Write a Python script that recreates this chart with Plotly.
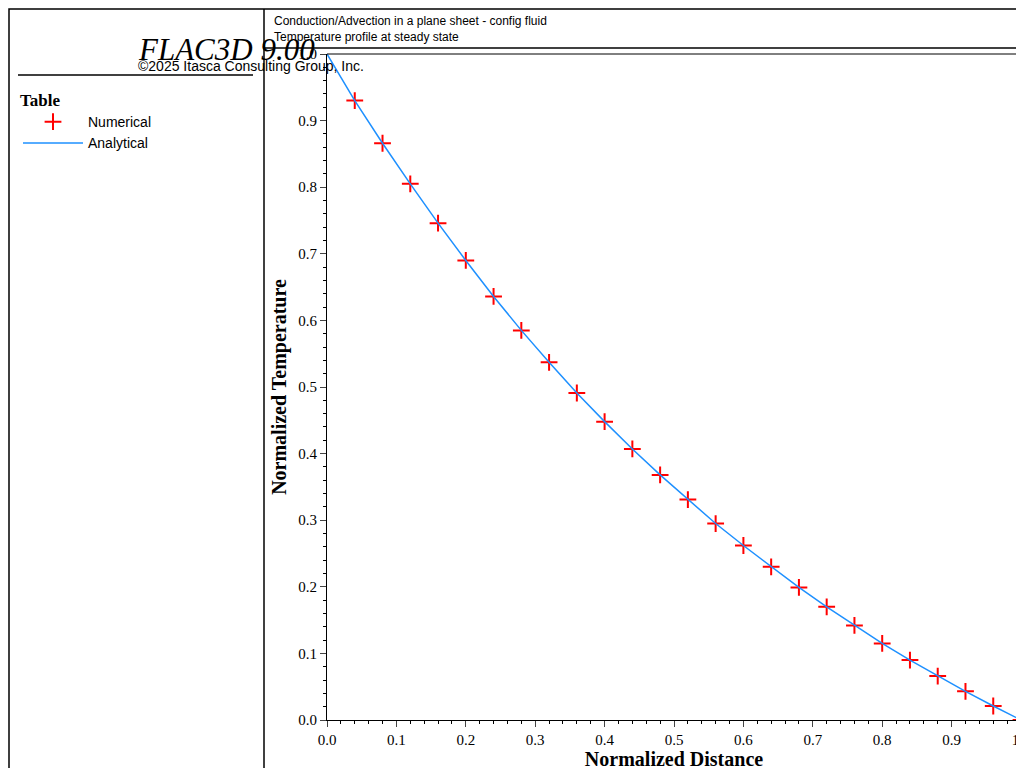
import plotly.graph_objects as go

# Values
dist_num = [0.04, 0.08, 0.12, 0.16, 0.20, 0.24, 0.28, 0.32, 0.36, 0.40, 0.44, 0.48,
            0.52, 0.56, 0.60, 0.64, 0.68, 0.72, 0.76, 0.80, 0.84, 0.88, 0.92, 0.96, 1.00]
temp_num = [0.930, 0.866, 0.805, 0.746, 0.690, 0.636, 0.585, 0.537, 0.491, 0.448, 0.407, 0.368,
            0.331, 0.295, 0.262, 0.230, 0.199, 0.170, 0.142, 0.115, 0.090, 0.066, 0.043, 0.021, 0.000]
dist_ana = [0.0] + dist_num
temp_ana = [1.0] + temp_num
ticks = [0.0, 0.1, 0.2, 0.3, 0.4, 0.5, 0.6, 0.7, 0.8, 0.9, 1.0]

W, H = 1024, 768
fig = go.Figure()
fig.add_trace(go.Scatter(x=dist_num, y=temp_num, mode="markers", name="Numerical", cliponaxis=False,
                         marker=dict(symbol="cross-thin", size=12, line=dict(color="#ff0000", width=2))))
fig.add_trace(go.Scatter(x=dist_ana, y=temp_ana, mode="lines", name="Analytical",
                         line=dict(color="#1e90ff", width=1.5)))

axis_common = dict(range=[0, 1], tickvals=ticks, ticktext=[f"{t:.1f}" for t in ticks],
                   ticks="outside", ticklen=6, showgrid=False, zeroline=False,
                   showline=True, linecolor="black", linewidth=1,
                   minor=dict(ticks="outside", ticklen=3, dtick=0.02, tickcolor="black"),
                   tickfont=dict(family="Liberation Serif", size=15, color="black"))
fig.update_xaxes(**axis_common, domain=[319 / W, 1013 / W], anchor="y",
                 title=dict(text="<b>Normalized Distance</b>", standoff=2,
                            font=dict(family="Liberation Serif", size=20, color="black")))
fig.update_yaxes(**axis_common, domain=[1 - 712 / H, 1 - 46 / H], anchor="x",
                 title=dict(text="<b>Normalized Temperature</b>", standoff=6,
                            font=dict(family="Liberation Serif", size=20, color="black")))

def px(x):
    return x / W

def py(y):
    return 1 - y / H

shapes = [
    dict(type="rect", xref="paper", yref="paper", x0=px(1), x1=px(1023), y0=py(767), y1=py(1),
         line=dict(color="black", width=1.5)),
    dict(type="line", xref="paper", yref="paper", x0=px(256), x1=px(256), y0=py(767), y1=py(1),
         line=dict(color="black", width=1.5)),
    dict(type="line", xref="paper", yref="paper", x0=px(256), x1=px(1023), y0=py(40), y1=py(40),
         line=dict(color="black", width=1.5)),
    dict(type="line", xref="paper", yref="paper", x0=px(10), x1=px(245), y0=py(67), y1=py(67),
         line=dict(color="black", width=1.5)),
    dict(type="line", xref="paper", yref="paper", x0=px(1013), x1=px(1013), y0=py(712), y1=py(46),
         line=dict(color="black", width=1)),
    dict(type="line", xref="paper", yref="paper", x0=px(319), x1=px(1013), y0=py(46), y1=py(46),
         line=dict(color="black", width=1)),
]

annotations = [
    dict(text="<i>FLAC3D 9.00</i>", x=px(128), y=py(22), xref="paper", yref="paper",
         showarrow=False, font=dict(family="Liberation Serif", size=31, color="black")),
    dict(text="©2025 Itasca Consulting Group, Inc.", x=px(128), y=py(48), xref="paper", yref="paper",
         showarrow=False, font=dict(family="Liberation Sans", size=14, color="black")),
    dict(text="Conduction/Advection in a plane sheet - config fluid<br>Temperature profile at steady state",
         x=px(264), y=py(4), xref="paper", yref="paper", xanchor="left", yanchor="top", align="left",
         showarrow=False, font=dict(family="Liberation Sans", size=12, color="black")),
]

fig.update_layout(
    width=W, height=H, margin=dict(l=0, r=0, t=0, b=0, pad=0, autoexpand=False),
    paper_bgcolor="white", plot_bgcolor="white",
    shapes=shapes, annotations=annotations,
    legend=dict(x=px(10), y=py(76), xanchor="left", yanchor="top", bgcolor="rgba(0,0,0,0)",
                title=dict(text="<b>Table</b>", font=dict(family="Liberation Serif", size=17, color="black")),
                font=dict(family="Liberation Sans", size=14, color="black"), itemwidth=60,
                tracegroupgap=0),
)

fig.write_html("out.html")
